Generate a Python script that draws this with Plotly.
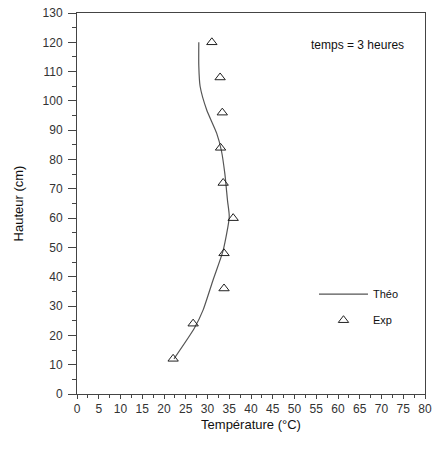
import plotly.graph_objects as go

# Theoretical profile
theo_temp = [22.3, 27.0, 29.0, 31.3, 33.6, 35.0, 34.6, 34.0, 33.2, 32.1, 29.8, 28.3, 28.0, 28.0]
theo_height = [12, 22.5, 28.7, 39, 49, 60.5, 66, 75, 83, 89, 97, 105, 112, 120]

# Experimental points
exp_temp = [22.1, 26.7, 33.8, 33.8, 35.9, 33.6, 33.0, 33.4, 32.9, 31.0]
exp_height = [12, 24, 36, 48, 60, 72, 84, 96, 108, 120]

x_ticks = list(range(0, 81, 5))
y_ticks = list(range(0, 131, 10))

FONT = "Liberation Sans, Arial, sans-serif"

fig = go.Figure()
fig.add_trace(go.Scatter(
    x=theo_temp, y=theo_height, mode="lines", name="Théo", legendgroup="a",
    line=dict(color="#555555", width=1.2, shape="spline", smoothing=0.6),
))
fig.add_trace(go.Scatter(
    x=exp_temp, y=exp_height, mode="markers", name="Exp", legendgroup="b",
    marker=dict(symbol="triangle-up-open", size=9, color="#222222",
                line=dict(width=1, color="#222222")),
))

fig.add_annotation(
    x=0.805, y=0.916, xref="paper", yref="paper", text="temps = 3 heures",
    xanchor="center", yanchor="middle",
    showarrow=False, font=dict(family=FONT, size=12, color="#111111"),
)

fig.update_layout(
    width=436, height=455,
    margin=dict(l=77, r=11, t=13, b=61, autoexpand=False),
    paper_bgcolor="white", plot_bgcolor="white",
    font=dict(family=FONT, color="#333333"),
    showlegend=True,
    legend=dict(x=0.681, y=0.30, xanchor="left", yanchor="top",
                bgcolor="rgba(0,0,0,0)", font=dict(family=FONT, size=11, color="#111111"),
                itemwidth=49, traceorder="grouped", tracegroupgap=7),
    xaxis=dict(
        range=[0, 80], tickmode="array", tickvals=x_ticks,
        ticktext=[str(v) for v in x_ticks], automargin=False,
        ticks="outside", ticklen=4, tickwidth=1, tickcolor="#444",
        minor=dict(dtick=2.5, ticks="outside", ticklen=3, tickcolor="#444", showgrid=False),
        showline=True, linecolor="#444", linewidth=1, mirror=True,
        showgrid=False, zeroline=False, ticklabeloverflow="allow",
        tickfont=dict(family=FONT, size=12, color="#333333"),
        title=dict(text="Température (°C)", font=dict(family=FONT, size=13, color="#111111"), standoff=4),
    ),
    yaxis=dict(
        range=[0, 130], tickmode="array", tickvals=y_ticks,
        ticktext=[str(v) for v in y_ticks], automargin=False,
        ticks="outside", ticklen=8, tickwidth=1, tickcolor="#444",
        minor=dict(dtick=5, ticks="outside", ticklen=4, tickcolor="#444", showgrid=False),
        showline=True, linecolor="#444", linewidth=1, mirror=True,
        showgrid=False, zeroline=False, ticklabelstandoff=3, ticklabeloverflow="allow",
        tickfont=dict(family=FONT, size=12, color="#333333"),
        title=dict(text="Hauteur (cm)", font=dict(family=FONT, size=13, color="#111111"), standoff=16),
    ),
)

fig.write_html("out.html", config={"displayModeBar": False},
               post_script="document.body.style.margin='0';")
